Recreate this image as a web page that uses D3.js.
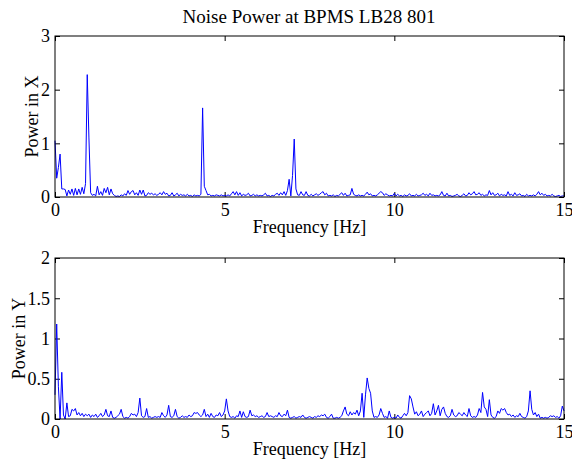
<!DOCTYPE html>
<html lang="en">
<head>
<meta charset="utf-8">
<title>Noise Power at BPMS LB28 801</title>
<script src="https://d3js.org/d3.v7.min.js"></script>
<style>
  body { margin: 0; background: #fff; }
  text { font-family: "Liberation Serif", "DejaVu Serif", serif; fill: #000; }
  .tick line { stroke: #000; }
</style>
</head>
<body>
<div id="chart"></div>
<script>
// frequency grid (Hz), one bin every 0.05 Hz from 0 to 15
var freqStep = 0.05;
var frequencies = d3.range(301).map(i => +(i * freqStep).toFixed(2));

// power in X, one row per Hz
var powerX = [
  1.05,0.35,0.55,0.80,0.15,0.15,0.14,0.02,0.13,0.05,0.15,0.03,0.16,0.04,0.15,0.05,0.18,0.06,0.25,2.28,
  1.10,0.08,0.03,0.05,0.02,0.20,0.04,0.10,0.03,0.16,0.08,0.18,0.04,0.15,0.06,0.03,0.01,0.02,0.01,0.04,
  0.02,0.06,0.03,0.12,0.05,0.10,0.12,0.04,0.08,0.03,0.13,0.05,0.13,0.02,0.03,0.08,0.05,0.07,0.04,0.06,
  0.03,0.05,0.08,0.04,0.10,0.05,0.07,0.02,0.03,0.08,0.02,0.04,0.07,0.02,0.05,0.03,0.04,0.02,0.05,0.02,
  0.03,0.01,0.04,0.02,0.03,0.02,0.05,1.66,0.20,0.12,0.04,0.05,0.02,0.03,0.02,0.04,0.03,0.02,0.04,0.02,
  0.03,0.02,0.04,0.02,0.06,0.10,0.04,0.10,0.03,0.08,0.02,0.05,0.03,0.04,0.07,0.02,0.03,0.05,0.02,0.04,
  0.02,0.03,0.02,0.04,0.07,0.02,0.03,0.01,0.03,0.02,0.05,0.07,0.03,0.08,0.04,0.10,0.03,0.12,0.33,0.02,
  0.40,1.08,0.15,0.04,0.03,0.10,0.04,0.03,0.10,0.03,0.02,0.05,0.02,0.04,0.06,0.03,0.05,0.08,0.10,0.04,
  0.07,0.02,0.03,0.02,0.04,0.01,0.03,0.02,0.05,0.08,0.03,0.07,0.02,0.03,0.04,0.16,0.05,0.03,0.02,0.04,
  0.02,0.03,0.02,0.05,0.09,0.04,0.06,0.02,0.03,0.02,0.04,0.07,0.10,0.08,0.03,0.06,0.04,0.02,0.03,0.02,
  0.07,0.02,0.05,0.02,0.03,0.01,0.04,0.02,0.03,0.06,0.02,0.03,0.02,0.05,0.02,0.03,0.04,0.07,0.03,0.05,
  0.02,0.07,0.03,0.04,0.02,0.03,0.02,0.04,0.10,0.03,0.02,0.07,0.02,0.03,0.01,0.02,0.03,0.05,0.02,0.01,
  0.03,0.06,0.02,0.03,0.08,0.04,0.06,0.10,0.04,0.05,0.08,0.03,0.05,0.02,0.04,0.03,0.12,0.04,0.08,0.03,
  0.04,0.07,0.02,0.05,0.03,0.04,0.02,0.10,0.03,0.05,0.02,0.08,0.03,0.04,0.06,0.02,0.03,0.01,0.05,0.02,
  0.03,0.02,0.04,0.02,0.05,0.10,0.04,0.07,0.03,0.05,0.02,0.03,0.02,0.05,0.02,0.01,0.02,0.03,0.01,0.02,
  0.02
];

// power in Y
var powerY = [
  0.30,1.18,0.40,0.00,0.58,0.05,0.00,0.20,0.03,0.04,0.12,0.10,0.13,0.05,0.08,0.04,0.07,0.03,0.06,0.04,
  0.06,0.02,0.05,0.03,0.06,0.02,0.04,0.07,0.03,0.05,0.12,0.04,0.03,0.10,0.02,0.01,0.02,0.04,0.06,0.12,
  0.03,0.01,0.02,0.01,0.03,0.07,0.05,0.06,0.03,0.08,0.26,0.04,0.02,0.03,0.13,0.02,0.03,0.01,0.02,0.03,
  0.02,0.03,0.02,0.08,0.04,0.02,0.05,0.17,0.03,0.02,0.04,0.12,0.03,0.01,0.02,0.04,0.02,0.03,0.02,0.05,
  0.03,0.04,0.08,0.07,0.08,0.05,0.03,0.05,0.12,0.03,0.06,0.02,0.07,0.03,0.02,0.05,0.04,0.08,0.03,0.05,
  0.10,0.25,0.10,0.03,0.02,0.03,0.01,0.04,0.03,0.10,0.02,0.09,0.03,0.02,0.03,0.11,0.04,0.05,0.03,0.04,
  0.02,0.03,0.04,0.02,0.03,0.08,0.03,0.04,0.03,0.02,0.04,0.03,0.08,0.04,0.03,0.06,0.04,0.11,0.02,0.01,
  0.02,0.03,0.01,0.02,0.03,0.02,0.05,0.02,0.01,0.02,0.03,0.02,0.01,0.03,0.02,0.04,0.03,0.05,0.04,0.06,
  0.02,0.01,0.03,0.06,0.01,0.01,0.02,0.01,0.02,0.04,0.10,0.15,0.06,0.04,0.09,0.05,0.08,0.06,0.11,0.04,
  0.10,0.32,0.02,0.30,0.51,0.38,0.32,0.10,0.02,0.03,0.02,0.05,0.13,0.07,0.02,0.03,0.01,0.10,0.02,0.01,
  0.02,0.01,0.05,0.02,0.01,0.04,0.07,0.04,0.08,0.29,0.25,0.15,0.06,0.09,0.04,0.06,0.10,0.03,0.06,0.08,
  0.10,0.04,0.07,0.19,0.05,0.10,0.17,0.04,0.12,0.15,0.07,0.03,0.02,0.04,0.12,0.05,0.03,0.04,0.08,0.06,
  0.04,0.08,0.05,0.03,0.13,0.04,0.02,0.03,0.02,0.05,0.13,0.08,0.33,0.15,0.12,0.03,0.24,0.05,0.02,0.01,
  0.03,0.10,0.07,0.13,0.11,0.13,0.08,0.05,0.06,0.03,0.05,0.02,0.04,0.03,0.07,0.03,0.02,0.01,0.03,0.10,
  0.35,0.12,0.05,0.08,0.03,0.06,0.01,0.02,0.01,0.02,0.01,0.02,0.04,0.03,0.04,0.02,0.03,0.01,0.04,0.16,
  0.10
];

var xTicks = [0, 5, 10, 15];
var yTicksX = [0, 1, 2, 3];
var yTicksY = [0, 0.5, 1, 1.5, 2];

var w = 572, h = 460;
var left = 55, right = 564;

var svg = d3.select('#chart').append('svg')
  .attr('width', w).attr('height', h);

svg.append('rect').attr('width', w).attr('height', h).attr('fill', '#fff');

svg.append('text')
  .attr('x', 309).attr('y', 23)
  .attr('text-anchor', 'middle')
  .style('font-size', '19px')
  .text('Noise Power at BPMS LB28 801');

function drawPanel(top, bottom, yMax, yTicks, values, yLabel, labelX) {
  var x = d3.scaleLinear().domain([0, 15]).range([left, right]);
  var y = d3.scaleLinear().domain([0, yMax]).range([bottom, top]);

  // bottom + left axes with labels, ticks pointing inside
  var gx = svg.append('g').attr('transform', 'translate(0,' + bottom + ')')
    .call(d3.axisBottom(x).tickValues(xTicks).tickFormat(d3.format('d'))
      .tickSizeInner(-5).tickSizeOuter(0).tickPadding(6));
  var gy = svg.append('g').attr('transform', 'translate(' + left + ',0)')
    .call(d3.axisLeft(y).tickValues(yTicks).tickFormat(d => d)
      .tickSizeInner(-5).tickSizeOuter(0).tickPadding(5));
  // top + right ticks, no labels
  var gt = svg.append('g').attr('transform', 'translate(0,' + top + ')')
    .call(d3.axisTop(x).tickValues(xTicks).tickFormat('')
      .tickSizeInner(-5).tickSizeOuter(0));
  var gr = svg.append('g').attr('transform', 'translate(' + right + ',0)')
    .call(d3.axisRight(y).tickValues(yTicks).tickFormat('')
      .tickSizeInner(-5).tickSizeOuter(0));

  [gx, gy, gt, gr].forEach(g => {
    g.select('.domain').remove();
    g.selectAll('text').style('font-size', '18px').style('font-family', '"Liberation Serif", serif');
  });

  var line = d3.line()
    .x((d, i) => x(frequencies[i]))
    .y(d => y(d));

  svg.append('path')
    .datum(values)
    .attr('d', line)
    .attr('fill', 'none')
    .attr('stroke', '#0000ff')
    .attr('stroke-width', 1);

  svg.append('rect')
    .attr('x', left).attr('y', top)
    .attr('width', right - left).attr('height', bottom - top)
    .attr('fill', 'none').attr('stroke', '#000').attr('stroke-width', 1);

  svg.append('text')
    .attr('x', (left + right) / 2).attr('y', bottom + 36)
    .attr('text-anchor', 'middle')
    .style('font-size', '18px')
    .text('Frequency [Hz]');

  svg.append('text')
    .attr('transform', 'translate(' + labelX + ',' + (top + bottom) / 2 + ') rotate(-90)')
    .attr('text-anchor', 'middle')
    .style('font-size', '18px')
    .text(yLabel);
}

drawPanel(36, 197, 3, yTicksX, powerX, 'Power in X', 38);
drawPanel(258, 419, 2, yTicksY, powerY, 'Power in Y', 25);
</script>
</body>
</html>
